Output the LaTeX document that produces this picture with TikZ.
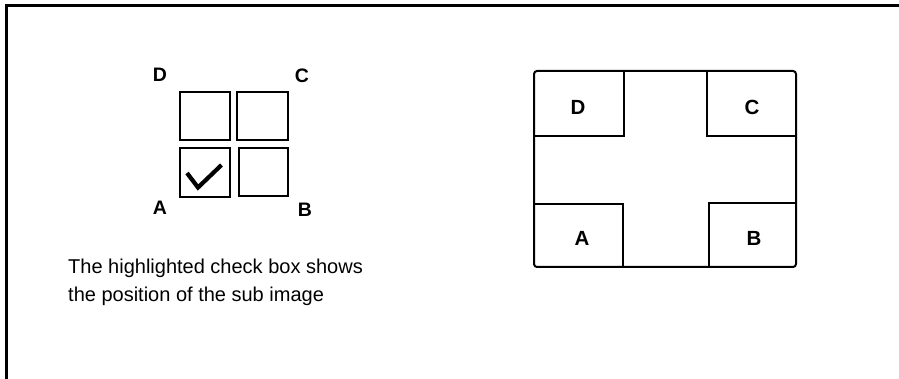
\documentclass[tikz,border=0pt]{standalone}
\usepackage{fontspec}
\setmainfont{Liberation Sans}
\begin{document}
\begin{tikzpicture}[x=1pt,y=-1pt,
  sbox/.style={draw,line width=2pt,inner sep=0pt,minimum width=50pt,minimum height=48pt},
  slabel/.style={font=\fontsize{19.5}{21}\selectfont\bfseries,inner sep=0pt},
  blabel/.style={font=\fontsize{20.5}{22}\selectfont\bfseries,inner sep=0pt},
  bline/.style={line width=2pt}]
\useasboundingbox (0,0) rectangle (899,379);
% frame
\coordinate (f0) at (6.5,379);
\coordinate (f1) at (6.5,5.5);
\coordinate (f2) at (899,5.5);
\draw[line width=2.2pt] (f0) -- (f1) -- (f2);
% small check boxes
\node[sbox] (tl) at (205,116) {};
\node[sbox,minimum width=51pt] (tr) at (262.5,116) {};
\node[sbox,minimum height=49pt] (bl) at (205,172.5) {};
\node[sbox,minimum width=49pt] (br) at (263.5,172) {};
\coordinate (k1) at (187,173);
\coordinate (k2) at (198,187.5);
\coordinate (k3) at (221.5,165);
\draw[line width=4.2pt] (k1) -- (k2) -- (k3);
\node[slabel] (sD) at (160,75) {D};
\node[slabel] (sC) at (302,76) {C};
\node[slabel] (sA) at (160,208) {A};
\node[slabel] (sB) at (305,210) {B};
% caption
\node[anchor=north west,inner sep=0pt,align=left,font=\fontsize{20}{28.5}\selectfont] (cap) at (68,258.5)
  {The highlighted check box shows\\the position of the sub image};
% big box
\node[draw,line width=2pt,rounded corners=3pt,inner sep=0pt,minimum width=262pt,minimum height=196pt] (big) at (665,169) {};
\coordinate (d1) at (534,136);
\coordinate (d2) at (624,136);
\coordinate (d3) at (624,71);
\draw[bline] (d1) -- (d2) -- (d3);
\coordinate (c1) at (707,71);
\coordinate (c2) at (707,136);
\coordinate (c3) at (796,136);
\draw[bline] (c1) -- (c2) -- (c3);
\coordinate (a1) at (534,204);
\coordinate (a2) at (623,204);
\coordinate (a3) at (623,267);
\draw[bline] (a1) -- (a2) -- (a3);
\coordinate (b1) at (796,203);
\coordinate (b2) at (709,203);
\coordinate (b3) at (709,267);
\draw[bline] (b1) -- (b2) -- (b3);
\node[blabel] (bD) at (578,107) {D};
\node[blabel] (bC) at (752,107) {C};
\node[blabel] (bA) at (582,238) {A};
\node[blabel] (bB) at (754,238) {B};
\end{tikzpicture}
\end{document}
